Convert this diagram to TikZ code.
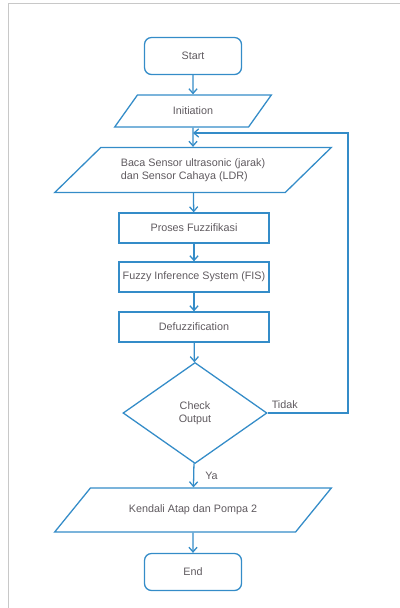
\documentclass[tikz,border=0pt]{standalone}
\usepackage{fontspec}
\setmainfont{Liberation Sans}
\usetikzlibrary{arrows.meta,shapes.geometric}
\definecolor{flowblue}{RGB}{52,140,200}
\definecolor{flowtext}{RGB}{95,90,95}
\definecolor{framegray}{RGB}{200,200,200}

\begin{document}
\begin{tikzpicture}[x=0.03cm,y=-0.03cm,
    font=\fontsize{9.2}{11}\selectfont, text=flowtext]
\useasboundingbox (0,0) rectangle (400,608);
\draw[framegray, line width=1.5pt] (8.5,608) -- (8.5,3.5) -- (400,3.5);

\begin{scope}[every node/.style={draw=flowblue,line width=1.1pt,align=center}]
    \node[rounded corners=6pt,minimum width=2.91cm,minimum height=1.11cm] (S) at (193,56) {Start};
    \node[trapezium,trapezium left angle=58,trapezium right angle=122,trapezium stretches=true,
          minimum width=4.71cm,minimum height=0.96cm] (I) at (193,111) {Initiation};
    \node[trapezium,trapezium left angle=39,trapezium right angle=141,trapezium stretches=true,
          minimum width=8.31cm,minimum height=1.35cm,align=left] (B) at (193,170)
          {Baca Sensor ultrasonic (jarak)\\dan Sensor Cahaya (LDR)};
    \node[inner xsep=1pt,minimum width=4.5cm,minimum height=0.9cm] (F) at (194,228) {Proses Fuzzifikasi};
    \node[inner xsep=1pt,minimum width=4.5cm,minimum height=0.9cm] (FIS) at (194,277) {Fuzzy Inference System (FIS)};
    \node[inner xsep=1pt,minimum width=4.5cm,minimum height=0.9cm] (D) at (194,327) {Defuzzification};
    \node[diamond,minimum width=4.32cm,minimum height=3.03cm,inner sep=0pt] (C) at (195,413) {Check\\Output};
    \node[trapezium,trapezium left angle=37,trapezium right angle=143,trapezium stretches=true,
          minimum width=8.31cm,minimum height=1.32cm] (K) at (193,510) {Kendali Atap dan Pompa 2};
    \node[rounded corners=6pt,minimum width=2.91cm,minimum height=1.11cm] (E) at (193,572) {End};
\end{scope}

\coordinate (J) at (193,133);
\coordinate (R) at (348,133);

\begin{scope}[>={Straight Barb[length=4pt,width=7pt]},
              every edge/.style={draw=flowblue,line width=1.1pt}]
    \path [->] (S) edge (I);
    \path [->] (I) edge (B);
    \path [->] (B) edge (F);
    \path [->] (F) edge (FIS);
    \path [->] (FIS) edge (D);
    \path [->] (D) edge (C);
    \path [->] (C) edge node[right=6pt] {Ya} (K);
    \path [->] (K) edge (E);
    \draw [->,draw=flowblue,line width=1.1pt] (C.east) -| (R) -- (J);
\end{scope}
\node[above right] (T) at (C.east) {Tidak};
\end{tikzpicture}
\end{document}
